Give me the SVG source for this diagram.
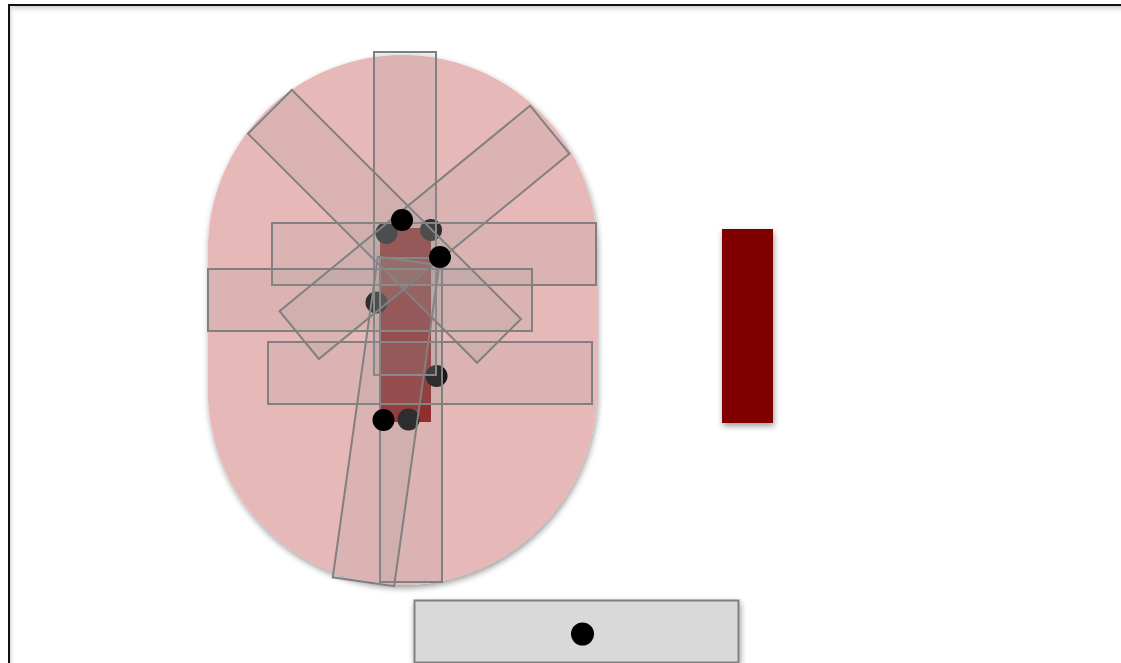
<svg xmlns="http://www.w3.org/2000/svg" width="1121" height="663" viewBox="0 0 1121 663">
  <defs>
    <filter id="shadow" x="-20%" y="-20%" width="140%" height="140%">
      <feGaussianBlur in="SourceAlpha" stdDeviation="3"/>
      <feOffset dx="1" dy="3" result="b"/>
      <feComponentTransfer><feFuncA type="linear" slope="0.4"/></feComponentTransfer>
      <feMerge><feMergeNode/><feMergeNode in="SourceGraphic"/></feMerge>
    </filter>
    <linearGradient id="topShade" x1="0" y1="0" x2="0" y2="1">
      <stop offset="0" stop-color="#cfcfcf"/>
      <stop offset="1" stop-color="#ffffff" stop-opacity="0"/>
    </linearGradient>
    <linearGradient id="leftShade" x1="0" y1="0" x2="1" y2="0">
      <stop offset="0" stop-color="#d6d6d6"/>
      <stop offset="1" stop-color="#ffffff" stop-opacity="0"/>
    </linearGradient>
  </defs>
  <style>
    .ghost { fill: #9a9a9a; fill-opacity: 0.16; stroke: #808080; stroke-width: 2; }
    .dot { fill: #000000; }
  </style>
  <rect width="1121" height="663" fill="#ffffff"/>
  <g id="frame">
    <rect x="10" y="6" width="1120" height="9" fill="url(#topShade)"/>
    <rect x="10" y="6" width="5" height="670" fill="url(#leftShade)"/>
    <rect x="9" y="5" width="1200" height="700" fill="none" stroke="#111111" stroke-width="2"/>
  </g>
  <g id="body">
    <rect x="208" y="55" width="389" height="530" rx="194.5" ry="194.5" fill="#e6b8b7" filter="url(#shadow)"/>
  </g>
  <g id="inner-bar">
    <rect x="380" y="228" width="51" height="194" fill="#921a1a"/>
  </g>
  <g id="dots-under">
    <circle class="dot" cx="386.5" cy="233" r="11"/>
    <circle class="dot" cx="431" cy="230" r="11"/>
    <circle class="dot" cx="376.5" cy="302.5" r="11"/>
    <circle class="dot" cx="436.5" cy="376" r="11"/>
    <circle class="dot" cx="408.5" cy="419.5" r="11"/>
  </g>
  <g id="blades">
    <rect id="blade-v-top" class="ghost" x="374" y="52" width="62" height="323"/>
    <rect id="blade-h-1" class="ghost" x="272" y="223" width="324" height="62"/>
    <rect id="blade-h-2" class="ghost" x="208" y="269" width="324" height="62"/>
    <rect id="blade-h-3" class="ghost" x="268" y="342" width="324" height="62"/>
    <rect id="blade-v-bottom" class="ghost" x="380" y="258" width="62" height="324"/>
    <rect id="blade-tilt" class="ghost" x="-31" y="-162" width="62" height="324" transform="translate(386 421.3) rotate(8)"/>
    <rect id="blade-diag-1" class="ghost" x="-162" y="-31" width="324" height="62" transform="translate(384.5 226.3) rotate(45)"/>
    <rect id="blade-diag-2" class="ghost" x="-162" y="-31" width="324" height="62" transform="translate(424.5 232.3) rotate(-39.35)"/>
  </g>
  <g id="dots-over">
    <circle class="dot" cx="402" cy="220" r="11"/>
    <circle class="dot" cx="440" cy="257" r="11"/>
    <circle class="dot" cx="383.5" cy="420" r="11"/>
  </g>
  <g id="side-bar">
    <rect x="722" y="229" width="51" height="194" fill="#800000" filter="url(#shadow)"/>
  </g>
  <g id="base">
    <rect x="414.5" y="600.5" width="324" height="62" fill="#d9d9d9" stroke="#808080" stroke-width="2" filter="url(#shadow)"/>
    <circle class="dot" cx="582.5" cy="634" r="11.5"/>
  </g>
</svg>
